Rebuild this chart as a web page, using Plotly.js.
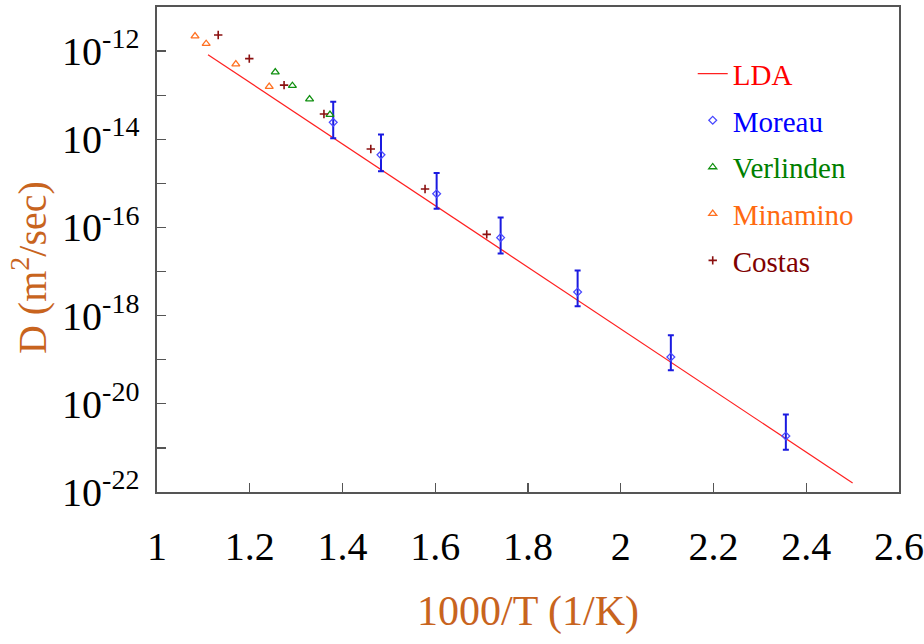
<!DOCTYPE html>
<html>
<head>
<meta charset="utf-8">
<script src="https://cdn.plot.ly/plotly-3.0.1.min.js"></script>
<style>html,body{margin:0;padding:0;background:#fff;}#chart{width:924px;height:644px;}</style>
</head>
<body>
<div id="chart"></div>
<script>
// LDA fit line (endpoints)
const ldaX = [1.11, 2.50];
const ldaY = [8.3e-13, 1.6e-22];

// Moreau (with asymmetric error bars)
const moreauX = [1.380, 1.483, 1.603, 1.741, 1.907, 2.108, 2.356];
const moreauY = [2.42e-14, 4.43e-15, 5.83e-16, 5.87e-17, 3.43e-18, 1.15e-19, 1.86e-21];
const moreauHi = [7.1e-14, 1.28e-14, 1.71e-15, 1.69e-16, 1.06e-17, 3.57e-19, 5.69e-21];
const moreauLo = [1.05e-14, 1.89e-15, 2.67e-16, 2.55e-17, 1.63e-18, 5.75e-20, 9.14e-22];

// Verlinden
const verlX = [1.255, 1.292, 1.329, 1.373];
const verlY = [3.34e-13, 1.64e-13, 8.16e-14, 3.61e-14];

// Minamino
const minaX = [1.082, 1.106, 1.170, 1.242];
const minaY = [2.19e-12, 1.47e-12, 5.07e-13, 1.56e-13];

// Costas
const costX = [1.132, 1.199, 1.274, 1.360, 1.461, 1.578, 1.711];
const costY = [2.31e-12, 6.73e-13, 1.69e-13, 3.73e-14, 6.03e-15, 7.43e-16, 6.98e-17];

// Tick labels
const yTickVals = [1e-12, 1e-14, 1e-16, 1e-18, 1e-20, 1e-22];
const yTickText = ['10<sup>-12</sup>', '10<sup>-14</sup>', '10<sup>-16</sup>', '10<sup>-18</sup>', '10<sup>-20</sup>', '10<sup>-22</sup>'];
const yMinorVals = [1e-11, 1e-13, 1e-15, 1e-17, 1e-19, 1e-21];
const xTickVals = [1, 1.2, 1.4, 1.6, 1.8, 2, 2.2, 2.4, 2.6];
const xTickText = ['1', '1.2', '1.4', '1.6', '1.8', '2', '2.2', '2.4', '2.6'];

const FONT = "'Liberation Serif', 'Times New Roman', 'DejaVu Serif', serif";
const TITLE_COLOR = '#c8641e';

const errHi = moreauHi.map((v, i) => v - moreauY[i]);
const errLo = moreauY.map((v, i) => v - moreauLo[i]);

const traces = [
  {x: ldaX, y: ldaY, mode: 'lines', name: '<span style="color:#ff0000">LDA</span>',
   legendgroup: 'a', line: {color: '#ff2020', width: 1.2}},
  {x: moreauX, y: moreauY, mode: 'markers', name: '<span style="color:#0000ff">Moreau</span>',
   legendgroup: 'b',
   marker: {symbol: 'diamond-open', size: 6, color: '#4a4aff', line: {width: 1.3, color: '#4a4aff'}},
   error_y: {type: 'data', symmetric: false, array: errHi, arrayminus: errLo,
             color: '#1a1ae0', thickness: 2, width: 3}},
  {x: verlX, y: verlY, mode: 'markers', name: '<span style="color:#008000">Verlinden</span>',
   legendgroup: 'c',
   marker: {symbol: 'triangle-up-open', size: 7, color: '#109010', line: {width: 1.3, color: '#109010'}}},
  {x: minaX, y: minaY, mode: 'markers', name: '<span style="color:#ff6a10">Minamino</span>',
   legendgroup: 'd',
   marker: {symbol: 'triangle-up-open', size: 7, color: '#ff7020', line: {width: 1.3, color: '#ff7020'}}},
  {x: costX, y: costY, mode: 'markers', name: '<span style="color:#800000">Costas</span>',
   legendgroup: 'e',
   marker: {symbol: 'cross-thin-open', size: 6, color: '#8b1010', line: {width: 1.6, color: '#8b1010'}}}
];

const layout = {
  width: 924, height: 644,
  paper_bgcolor: '#ffffff', plot_bgcolor: '#ffffff',
  margin: {l: 157, r: 25, t: 7, b: 152},
  font: {family: FONT, color: '#000'},
  showlegend: true,
  legend: {x: 0.722, y: 0.915, xanchor: 'left', yanchor: 'top',
           bgcolor: 'rgba(0,0,0,0)', font: {family: FONT, size: 29},
           traceorder: 'grouped', tracegroupgap: 6},
  xaxis: {
    type: 'linear', range: [1, 2.6],
    tickmode: 'array', tickvals: xTickVals, ticktext: xTickText,
    ticks: 'inside', ticklen: 9, tickwidth: 1.3, tickcolor: '#555',
    showline: true, linecolor: '#555', linewidth: 1.6, mirror: true,
    showgrid: false, zeroline: false,
    tickfont: {family: FONT, size: 40, color: '#000'},
    ticklabelstandoff: 18,
    title: {text: '1000/T (1/K)', font: {family: FONT, size: 42, color: TITLE_COLOR}, standoff: 28}
  },
  yaxis: {
    type: 'log', range: [-22, -11],
    tickmode: 'array', tickvals: yTickVals, ticktext: yTickText,
    ticks: 'inside', ticklen: 9, tickwidth: 1.3, tickcolor: '#555',
    minor: {tickvals: yMinorVals, ticks: 'inside', ticklen: 9, tickwidth: 1.3, tickcolor: '#555', showgrid: false},
    showline: true, linecolor: '#555', linewidth: 1.6, mirror: true,
    showgrid: false, zeroline: false,
    tickfont: {family: FONT, size: 40, color: '#000'},
    ticklabelstandoff: 8
  },
  annotations: [
    {text: 'D (m<sup>2</sup>/sec)', xref: 'paper', yref: 'paper',
     x: -0.171, y: 0.462, xanchor: 'center', yanchor: 'middle',
     textangle: -90, showarrow: false,
     font: {family: FONT, size: 40, color: TITLE_COLOR}}
  ]
};

Plotly.newPlot('chart', traces, layout, {displayModeBar: false, staticPlot: true});
</script>
</body>
</html>
